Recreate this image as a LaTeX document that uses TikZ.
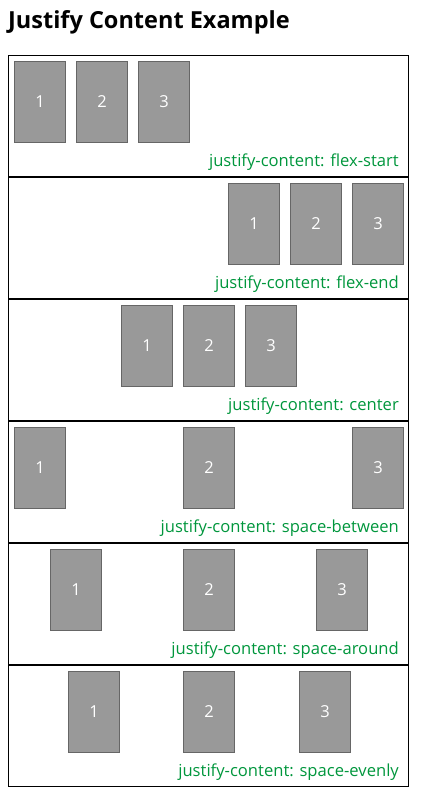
\documentclass[tikz,border=0pt]{standalone}
\usepackage{fontspec}
\setmainfont{Open Sans}
\definecolor{lbl}{RGB}{0,150,60}
\definecolor{boxfill}{RGB}{153,153,153}
\definecolor{boxline}{RGB}{102,102,102}
\begin{document}
\begin{tikzpicture}[x=1bp,y=-1bp,
  cont/.style={draw=black,line width=1bp},
  item/.style={draw=boxline,fill=boxfill,line width=1bp,minimum width=51bp,minimum height=81bp,inner sep=0pt,text=white,font=\fontsize{16.5bp}{20bp}\selectfont},
  lab/.style={text=lbl,font=\fontsize{16.6bp}{20bp}\selectfont,anchor=base east,inner sep=0pt},
  ttl/.style={font=\fontsize{23.5bp}{28bp}\selectfont\bfseries,anchor=base west,inner sep=0pt}]
\useasboundingbox (0,0) rectangle (424,796);
\node[ttl] (title) at (8,29) {Justify Content Example};
\foreach \i/\txt/\xa/\xb/\xc in {
  1/flex-start/14/76/138,
  2/flex-end/228/290/352,
  3/center/121/183/245,
  4/space-between/14/183/352,
  5/space-around/50/183/316,
  6/space-evenly/68/183/299}{
  \pgfmathsetmacro{\T}{55+122*(\i-1)}
  \draw[cont] (8.5,\T+0.5) rectangle (408.5,\T+121.5);
  \node[item] (b\i-1) at (\xa+26,\T+47) {1};
  \node[item] (b\i-2) at (\xb+26,\T+47) {2};
  \node[item] (b\i-3) at (\xc+26,\T+47) {3};
  \node[lab] (l\i) at (399,\T+111) {justify-content: \txt};
}
\end{tikzpicture}
\end{document}
